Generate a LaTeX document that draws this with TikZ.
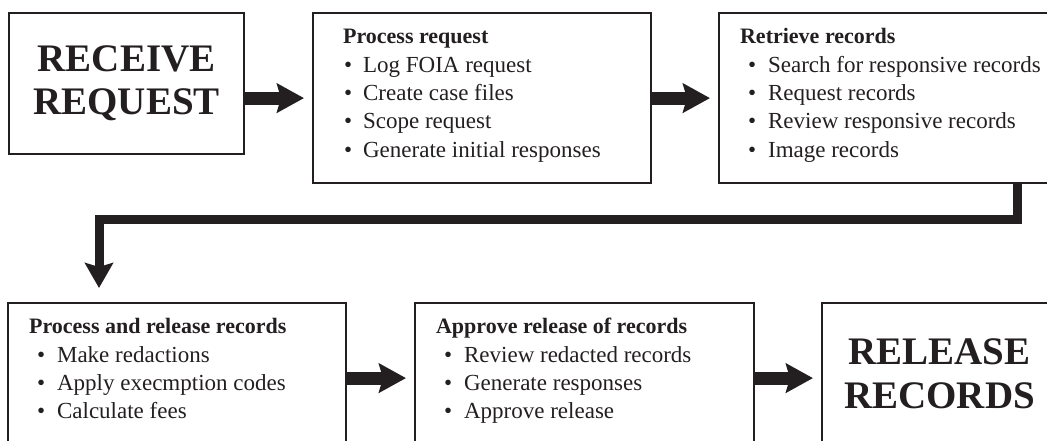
\documentclass[tikz,border=0pt]{standalone}
\usepackage{fontspec}
\setmainfont{Liberation Serif}
\usetikzlibrary{arrows.meta}

\definecolor{ink}{RGB}{35,31,32}

% indents of the bullet and of the item text
\newcommand{\bulletin}{8pt}
\newcommand{\textin}{28pt}

% heading plus bullet list, in a box of fixed height
\newcommand{\tasklist}[4][148pt]{%
  \begin{minipage}[t][#1][t]{#2}\raggedright
    \strut{\fontsize{22}{28.3}\selectfont\bfseries #3}%
    \foreach \task in {#4}{\\\hspace*{\bulletin}\makebox[\dimexpr\textin-\bulletin\relax][l]{\textbullet}\task}%
  \end{minipage}}

\begin{document}
\begin{tikzpicture}[x=1pt, y=-1pt, color=ink,
    box/.style={draw, line width=2.2pt, anchor=north west},
    bigbox/.style={box, minimum width=235pt, minimum height=141pt, align=center,
      font=\fontsize{39}{44}\selectfont\bfseries},
    taskbox/.style={box, inner xsep=21pt, inner ysep=11pt,
      font=\fontsize{23}{28.3}\selectfont},
    flow/.style={line width=13pt, -{Stealth[length=27pt, width=29pt, inset=4pt]}, shorten >=8pt},
    link/.style={line width=9pt, -{Stealth[length=25pt, width=28pt, inset=4pt]}, shorten >=14pt}]
    \useasboundingbox (0,0) rectangle (1047,441);

    % top row
    \node[bigbox] (receive) at (8,12) {RECEIVE\\[-1pt]REQUEST};
    \node[taskbox, inner xsep=30pt,
      execute at begin node={\renewcommand{\bulletin}{1pt}\renewcommand{\textin}{20pt}}] (proc) at (312,12)
      {\tasklist{278pt}{Process request}{Log FOIA request, Create case files, Scope request, Generate initial responses}};
    \node[taskbox] (retrieve) at (718,12)
      {\tasklist{320pt}{Retrieve records}{Search for responsive records, Request records, Review responsive records, Image records}};

    % bottom row
    \node[taskbox] (redact) at (7,302)
      {\tasklist[128pt]{296pt}{Process and release records}{Make redactions, Apply execmption codes, Calculate fees}};
    \node[taskbox] (approve) at (414,302)
      {\tasklist[128pt]{297pt}{Approve release of records}{Review redacted records, Generate responses, Approve release}};
    \node[bigbox] (release) at (821,302) {RELEASE\\RECORDS};

    % arrows
    \draw[flow] (proc.west -| receive.east) -- (proc.west);
    \draw[flow] (proc.east) -- (retrieve.west);
    \coordinate (turn) at (1017,219);
    \coordinate (drop) at (99,219);
    \draw[link] (retrieve.south -| turn) -- (turn) -- (drop) -- (redact.north -| drop);
    \draw[flow] (redact.east) -- (redact.east -| approve.west);
    \draw[flow] (approve.east) -- (approve.east -| release.west);
\end{tikzpicture}
\end{document}
